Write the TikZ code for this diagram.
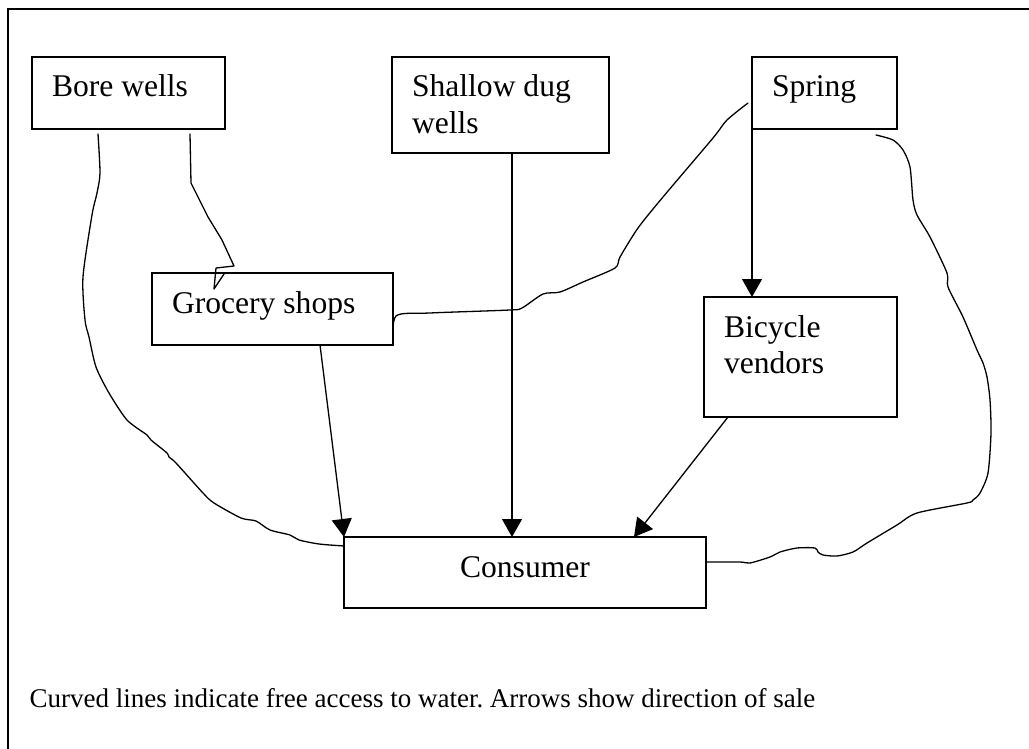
\documentclass[tikz,border=0pt]{standalone}
\usepackage{fontspec}
\setmainfont{Liberation Serif}
\usetikzlibrary{arrows.meta}
\frenchspacing
\newcommand{\boxtext}[4][\raggedright]{\parbox[c][#3pt][t]{#2pt}{#1\rule{0pt}{22pt}#4}}

\begin{document}
\begin{tikzpicture}[x=1pt, y=-1pt, line width=1.3pt,
    src/.style={draw, anchor=north west, inner xsep=20pt, inner ysep=18pt, outer sep=0pt,
                font=\fontsize{31.6pt}{36.5pt}\selectfont},
    sale/.style={-{Triangle[length=18pt,width=20pt]}},
    free/.style={line join=round, line cap=round}]
    \useasboundingbox (0,0) rectangle (1029,749);
    \draw[line width=2pt] (1029,9) -- (8,9) -- (8,749);

    \node[src] (bore) at (32,57) {\boxtext{153}{36}{Bore wells}};
    \node[src] (shallow) at (392,57) {\boxtext{177}{60}{Shallow dug\\wells}};
    \node[src] (spring) at (752,57) {\boxtext{105}{36}{Spring}};
    \node[src] (grocery) at (152,273) {\boxtext{201}{36}{Grocery shops}};
    \node[src] (bicycle) at (704,297) {\boxtext{153}{84}{Bicycle\\vendors}};
    \node[src] (consumer) at (344,537) {\boxtext[\centering]{322}{35}{Consumer}};
    \node[anchor=base west, inner xsep=0pt, font=\fontsize{27pt}{31pt}\selectfont] (note) at (29,707)
        {Curved lines indicate free access to water. Arrows show direction of sale};

    \coordinate (sd) at ([xshift=11.5pt]shallow.south);
    \coordinate (gs) at ([xshift=47.5pt]grocery.south);
    \coordinate (bv) at ([xshift=24pt]bicycle.south west);
    \draw[sale] (sd) -- (sd |- consumer.north);
    \draw[sale] (spring.south west) -- (spring.south west |- bicycle.north);
    \draw[sale] (gs) -- (consumer.north west);
    \draw[sale] (bv) -- ([xshift=-72pt]consumer.north east);

    \draw[free] plot[smooth, tension=0.45] coordinates {([shift={(66,5)}]bore.south west)
        (100,173) (97,193) (92,215) (83,277) (85,320) (89,337) (96,367) (109,393)
        (127,420) (147,435) (151,440) (167,453) (169,457) (176,463) (203,493) (214,503)
        (241,518) (256,521) (270,530) (290,535) (299,540) (319,544) ([shift={(0,9)}]consumer.north west)};
    \draw[free] ([shift={(158,5)}]bore.south west) -- (191,183) -- (208,217) -- (222,240)
        -- (234,266) -- (216,268) -- (214,289) -- (224,274);
    \draw[free] plot[smooth, tension=0.45] coordinates {(grocery.south east) (396,316)
        (430,313) (510,310) (522,308) (543,294) (560,292) (583,282) (615,268) (620,257)
        (638,228) (663,197) (713,138) (727,120) ([shift={(-4,10)}]spring.west)};
    \draw[free] plot[smooth, tension=0.45] coordinates {([shift={(-21,6)}]spring.south east)
        (893,140) (903,150) (910,167) (913,200) (917,215) (930,237) (947,273) (948,287)
        (963,317) (977,350) (983,363) (987,377) (990,400) (991,433) (988,473) (980,493)
        (973,500) (967,503) (917,513) (897,525) (867,543) (853,552) (837,556) (823,555)
        (818,552) (815,548) (797,548) (780,552) (770,557) (750,563) (740,562)
        ([shift={(0,-10.5)}]consumer.east)};
\end{tikzpicture}
\end{document}
